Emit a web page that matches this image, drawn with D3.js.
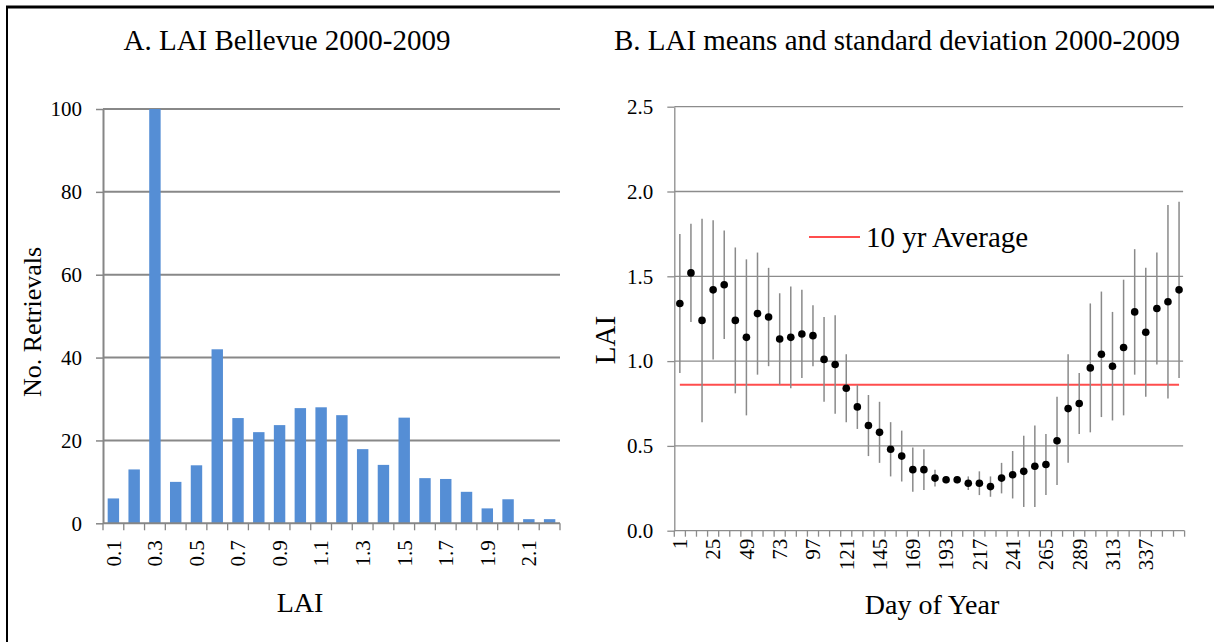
<!DOCTYPE html>
<html>
<head>
<meta charset="utf-8">
<script src="https://cdn.jsdelivr.net/npm/d3@7/dist/d3.min.js"></script>
<style>
  body { margin: 0; background: #fff; }
  svg text { font-family: "Liberation Serif", "Times New Roman", serif; fill: #000; }
</style>
</head>
<body>
<script>
// A. histogram of LAI retrievals
var lai_bins = ['0.1','0.2','0.3','0.4','0.5','0.6','0.7','0.8','0.9','1.0','1.1',
                '1.2','1.3','1.4','1.5','1.6','1.7','1.8','1.9','2.0','2.1','2.2'];
var retrieval_counts = [6, 13, 100, 10, 14, 42, 25.4, 22, 23.7, 27.8, 28,
                        26.1, 17.9, 14.1, 25.5, 10.9, 10.7, 7.6, 3.6, 5.8, 1, 1];
var lai_tick_labels = ['0.1','0.3','0.5','0.7','0.9','1.1','1.3','1.5','1.7','1.9','2.1'];
var count_ticks = [0, 20, 40, 60, 80, 100];

// B. 8-day means and standard deviation
var doy_days = [1, 9, 17, 25, 33, 41, 49, 57, 65, 73, 81, 89, 97, 105, 113, 121,
                129, 137, 145, 153, 161, 169, 177, 185, 193, 201, 209, 217, 225, 233,
                241, 249, 257, 265, 273, 281, 289, 297, 305, 313, 321, 329, 337, 345,
                353, 361];
var lai_means = [1.34, 1.52, 1.24, 1.42, 1.45, 1.24, 1.14, 1.28, 1.26, 1.13, 1.14, 1.16,
                 1.15, 1.01, 0.98, 0.84, 0.73, 0.62, 0.58, 0.48, 0.44, 0.36, 0.36, 0.31,
                 0.30, 0.30, 0.28, 0.28, 0.26, 0.31, 0.33, 0.35, 0.38, 0.39, 0.53, 0.72,
                 0.75, 0.96, 1.04, 0.97, 1.08, 1.29, 1.17, 1.31, 1.35, 1.42];
var lai_sd = [0.41, 0.29, 0.60, 0.41, 0.32, 0.43, 0.46, 0.36, 0.29, 0.27, 0.30, 0.26,
              0.18, 0.25, 0.29, 0.20, 0.13, 0.18, 0.18, 0.16, 0.15, 0.13, 0.12, 0.05,
              0.02, 0.02, 0.04, 0.07, 0.06, 0.09, 0.14, 0.21, 0.24, 0.18, 0.26, 0.32,
              0.18, 0.38, 0.37, 0.32, 0.40, 0.37, 0.38, 0.33, 0.57, 0.52];
var lai_average = 0.86;
var doy_tick_labels = ['1','25','49','73','97','121','145','169','193','217','241',
                       '265','289','313','337'];
var lai_ticks = [0, 0.5, 1.0, 1.5, 2.0, 2.5];

var svg = d3.select('body').append('svg')
  .attr('width', 1214)
  .attr('height', 642);

// frame
svg.append('line')
  .attr('x1', 6).attr('y1', 7).attr('x2', 1214).attr('y2', 7)
  .style('stroke', '#000').style('stroke-width', 3);
svg.append('line')
  .attr('x1', 7).attr('y1', 6).attr('x2', 7).attr('y2', 642)
  .style('stroke', '#000').style('stroke-width', 2);

function band_ticks(g, x, y0, len, color) {
  var edges = x.domain().map((d) => x(d)).concat([x.range()[1]]);
  g.selectAll('line.xtick')
    .data(edges).enter()
    .append('line')
    .attr('class', 'xtick')
    .attr('x1', (d) => d).attr('x2', (d) => d)
    .attr('y1', y0).attr('y2', y0 + len)
    .style('stroke', color)
    .style('stroke-width', 1.3);
}

function hist_draw() {
  var left = 103, right = 560, top = 109, bottom = 523.3;

  var x = d3.scaleBand()
    .domain(lai_bins)
    .range([left, right])
    .paddingInner(0.45)
    .paddingOuter(0.225);

  var xb = d3.scaleBand().domain(lai_bins).range([left, right]);

  var y = d3.scaleLinear()
    .domain([0, 100])
    .range([bottom, top]);

  var gph = svg.append('g').attr('class', 'hist-graph');

  gph.selectAll('line.grid')
    .data(count_ticks.slice(1)).enter()
    .append('line')
    .attr('class', 'grid')
    .attr('x1', left).attr('x2', right)
    .attr('y1', (d) => y(d)).attr('y2', (d) => y(d))
    .style('stroke', '#888')
    .style('stroke-width', 2);

  gph.selectAll('rect.bar')
    .data(retrieval_counts).enter()
    .append('rect')
    .attr('class', 'bar')
    .attr('x', (d,i) => x(lai_bins[i]))
    .attr('y', (d) => y(d))
    .attr('width', x.bandwidth())
    .attr('height', (d) => y(0) - y(d))
    .style('fill', '#558ed5');

  var y_axis = gph.append('g')
    .attr('transform', `translate(${left},0)`)
    .call(d3.axisLeft(y).tickValues(count_ticks).tickSize(7).tickSizeOuter(0).tickPadding(14));
  y_axis.select('.domain').style('stroke', '#868686').style('stroke-width', 2);
  y_axis.selectAll('.tick line').style('stroke', '#868686').style('stroke-width', 1.5);
  y_axis.selectAll('.tick text').style('font-size', '21px').style('font-family', null);

  gph.append('line')
    .attr('x1', left).attr('x2', right)
    .attr('y1', bottom).attr('y2', bottom)
    .style('stroke', '#868686').style('stroke-width', 2);

  band_ticks(gph, xb, bottom, 7, '#868686');

  gph.selectAll('text.xlab')
    .data(lai_tick_labels).enter()
    .append('text')
    .attr('class', 'xlab')
    .attr('transform', (d) => `translate(${xb(d) + xb.bandwidth() / 2},${bottom + 17}) rotate(-90)`)
    .attr('dy', '0.35em')
    .attr('text-anchor', 'end')
    .style('font-size', '21px')
    .text((d) => d);

  gph.append('text')
    .attr('x', 300).attr('y', 612)
    .attr('text-anchor', 'middle')
    .style('font-size', '28px')
    .text('LAI');

  gph.append('text')
    .attr('transform', 'translate(41,322) rotate(-90)')
    .attr('text-anchor', 'middle')
    .style('font-size', '26px')
    .text('No. Retrievals');

  gph.append('text')
    .attr('x', 287).attr('y', 50)
    .attr('text-anchor', 'middle')
    .style('font-size', '29px')
    .text('A. LAI Bellevue 2000-2009');
}

function means_draw() {
  var left = 674.3, right = 1184.6, top = 106.7, bottom = 530.7;

  var x = d3.scaleBand()
    .domain(doy_days)
    .range([left, right]);

  var cx = (d) => x(d) + x.bandwidth() / 2;

  var y = d3.scaleLinear()
    .domain([0, 2.5])
    .range([bottom, top]);

  var gph = svg.append('g').attr('class', 'means-graph');

  gph.selectAll('line.grid')
    .data(lai_ticks.slice(1)).enter()
    .append('line')
    .attr('class', 'grid')
    .attr('x1', left).attr('x2', right - 1.5)
    .attr('y1', (d) => y(d)).attr('y2', (d) => y(d))
    .style('stroke', '#8c8c8c')
    .style('stroke-width', 1.3);

  var y_axis = gph.append('g')
    .attr('transform', `translate(${left},0)`)
    .call(d3.axisLeft(y).tickValues(lai_ticks).tickFormat(d3.format('.1f'))
      .tickSize(7).tickSizeOuter(0).tickPadding(14));
  y_axis.select('.domain').style('stroke', '#8c8c8c').style('stroke-width', 1.3);
  y_axis.selectAll('.tick line').style('stroke', '#8c8c8c').style('stroke-width', 1.3);
  y_axis.selectAll('.tick text').style('font-size', '21px').style('font-family', null);

  gph.append('line')
    .attr('x1', left).attr('x2', right)
    .attr('y1', bottom).attr('y2', bottom)
    .style('stroke', '#8c8c8c').style('stroke-width', 1.3);

  band_ticks(gph, x, bottom, 6, '#8c8c8c');

  gph.selectAll('text.xlab')
    .data(doy_tick_labels).enter()
    .append('text')
    .attr('class', 'xlab')
    .attr('transform', (d) => `translate(${cx(+d)},${bottom + 8}) rotate(-90)`)
    .attr('dy', '0.35em')
    .attr('text-anchor', 'end')
    .style('font-size', '21px')
    .text((d) => d);

  // 10 yr average
  gph.append('line')
    .attr('x1', cx(doy_days[0])).attr('x2', cx(doy_days[doy_days.length - 1]))
    .attr('y1', y(lai_average)).attr('y2', y(lai_average))
    .style('stroke', '#ff4d4d')
    .style('stroke-width', 2);

  gph.selectAll('line.sd')
    .data(lai_means).enter()
    .append('line')
    .attr('class', 'sd')
    .attr('x1', (d,i) => cx(doy_days[i])).attr('x2', (d,i) => cx(doy_days[i]))
    .attr('y1', (d,i) => y(d + lai_sd[i])).attr('y2', (d,i) => y(d - lai_sd[i]))
    .style('stroke', '#8a8a8a')
    .style('stroke-width', 1.5);

  gph.selectAll('circle.mean')
    .data(lai_means).enter()
    .append('circle')
    .attr('class', 'mean')
    .attr('cx', (d,i) => cx(doy_days[i]))
    .attr('cy', (d) => y(d))
    .attr('r', 3.8)
    .style('fill', '#000');

  // legend
  gph.append('line')
    .attr('x1', 809).attr('x2', 860)
    .attr('y1', 237).attr('y2', 237)
    .style('stroke', '#ff4d4d')
    .style('stroke-width', 2);

  gph.append('text')
    .attr('x', 866).attr('y', 247)
    .style('font-size', '29px')
    .text('10 yr Average');

  gph.append('text')
    .attr('transform', 'translate(615,340) rotate(-90)')
    .attr('text-anchor', 'middle')
    .style('font-size', '29px')
    .text('LAI');

  gph.append('text')
    .attr('x', 932).attr('y', 614)
    .attr('text-anchor', 'middle')
    .style('font-size', '28px')
    .text('Day of Year');

  gph.append('text')
    .attr('x', 897).attr('y', 50)
    .attr('text-anchor', 'middle')
    .style('font-size', '29px')
    .text('B. LAI means and standard deviation 2000-2009');
}

hist_draw();
means_draw();
</script>
</body>
</html>
